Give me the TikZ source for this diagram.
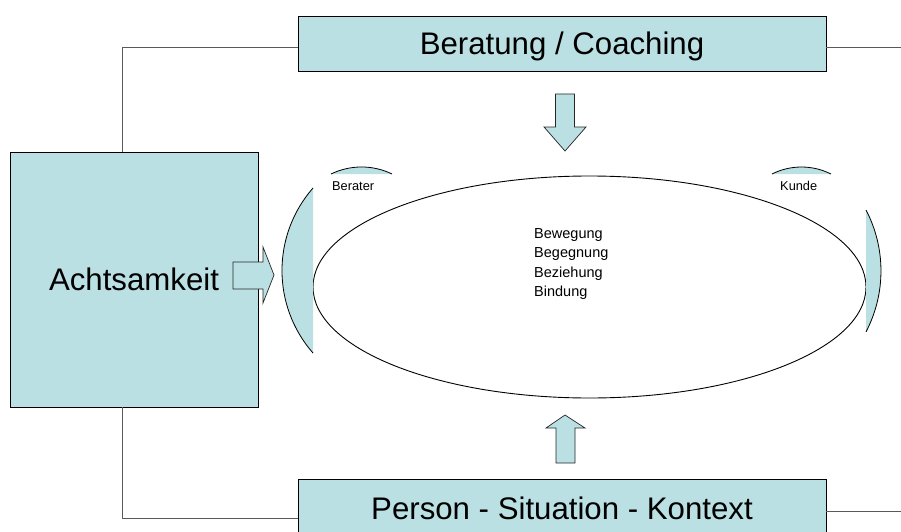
\documentclass[tikz,border=0pt]{standalone}
\usepackage{fontspec}
\setmainfont{Liberation Sans}
\usetikzlibrary{shapes.geometric}
\definecolor{lblue}{RGB}{186,224,227}
\definecolor{conncol}{RGB}{90,90,90}
\begin{document}
\begin{tikzpicture}[x=1pt,y=-1pt,
  box/.style={draw=black,line width=0.9pt,fill=lblue,inner sep=0pt,
    text height=22pt,text depth=0pt,
    font=\fontsize{31.2}{38}\selectfont},
  conn/.style={draw=conncol,line width=1pt},
  blockarrow/.style={draw=black!85,line width=0.7pt,fill=lblue,line join=miter},
  lens/.style={fill=lblue},
  lensedge/.style={draw=black,line width=0.8pt},
  word/.style={inner sep=0pt,anchor=base west,font=\fontsize{14.5}{17}\selectfont},
  tag/.style={inner sep=0pt,anchor=base west,font=\fontsize{12.8}{15}\selectfont}]
\useasboundingbox (0,0) rectangle (901,532);
\clip (0,0) rectangle (901,532);
\fill[white] (0,0) rectangle (901,532);

% boxes
\node[box,minimum width=528pt,minimum height=55pt] (top) at (562,43.5) {Beratung / Coaching};
\node[box,minimum width=248pt,minimum height=255pt] (acht) at (134,279.5) {Achtsamkeit};
\node[box,minimum width=528pt,minimum height=58pt] (bot) at (562,508) {Person - Situation - Kontext};

% connectors
\coordinate (tl) at (122,48);
\coordinate (tr) at (901,48);
\coordinate (bl) at (122,518);
\coordinate (br) at (901,511);
\draw[conn] (acht.north -| tl) -- (tl) -- (tl -| top.west);
\draw[conn] (top.east |- tr) -- (tr);
\draw[conn] (acht.south -| bl) -- (bl) -- (bl -| bot.west);
\draw[conn] (bot.east |- br) -- (br);

% ellipse
\node[draw=black,line width=0.9pt,ellipse,inner sep=0pt,minimum width=553pt,minimum height=222pt] (ell) at (589.5,287) {};

% lens shapes
\fill[lens] (313,188) arc[start angle=221.2,end angle=138.8,radius=125.3] -- cycle;
\draw[lensedge] (313,188) arc[start angle=221.2,end angle=138.8,radius=125.3];
\fill[lens] (866,210) arc[start angle=-27.6,end angle=27.6,radius=131.5] -- cycle;
\draw[lensedge] (866,210) arc[start angle=-27.6,end angle=27.6,radius=131.5];
\fill[lens] (331,174) arc[start angle=-115.9,end angle=-64.1,radius=69.9] -- cycle;
\draw[lensedge] (331,174) arc[start angle=-115.9,end angle=-64.1,radius=69.9];
\fill[lens] (772,174) arc[start angle=-116.7,end angle=-63.3,radius=65.6] -- cycle;
\draw[lensedge] (772,174) arc[start angle=-116.7,end angle=-63.3,radius=65.6];

% block arrows
\draw[blockarrow] (555.5,94) -- (574.5,94) -- (574.5,127) -- (586,127) -- (565,151)
  -- (544,127) -- (555.5,127) -- cycle;
\draw[blockarrow] (556,463) -- (575,463) -- (575,428) -- (585,428) -- (565,415)
  -- (546,428) -- (556,428) -- cycle;
\draw[blockarrow] (233,262) -- (263,262) -- (263,247) -- (274,275) -- (263,303)
  -- (263,289) -- (233,289) -- cycle;

% labels
\node[tag] (berater) at (332,190) {Berater};
\node[tag] (kunde) at (780,190) {Kunde};
\node[word] (w1) at (534,238.3) {Bewegung};
\node[word] (w2) at (534,257.8) {Begegnung};
\node[word] (w3) at (534,277.3) {Beziehung};
\node[word] (w4) at (534,296.8) {Bindung};
\end{tikzpicture}
\end{document}
